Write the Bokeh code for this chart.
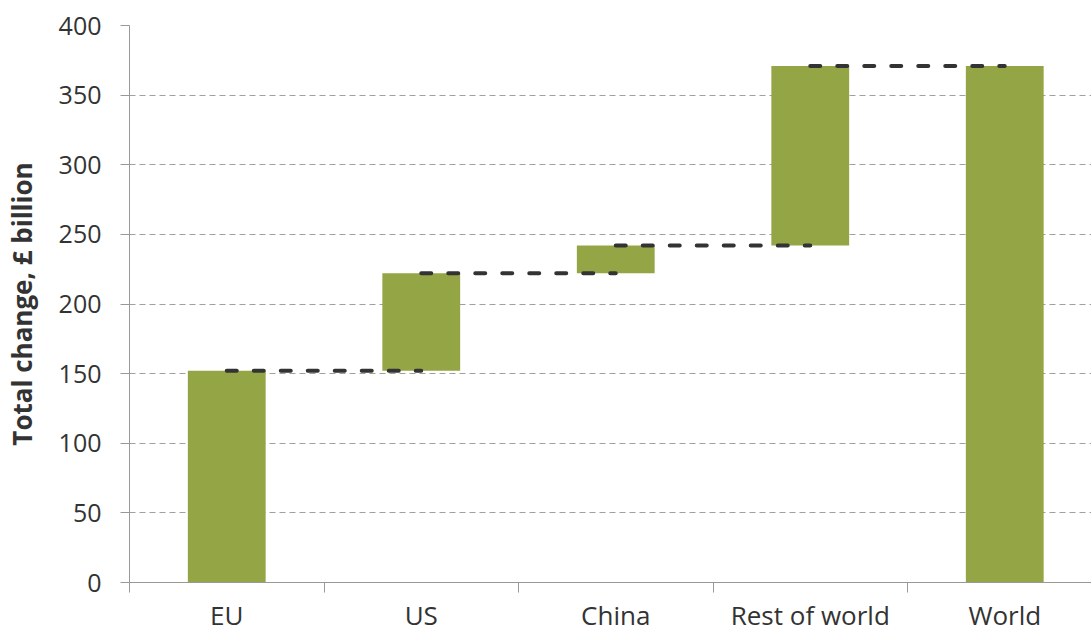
from bokeh.plotting import figure
from bokeh.models import FixedTicker, Range1d, ColumnDataSource
from bokeh.embed import file_html
from bokeh.resources import INLINE
import numpy as np

categories = ["EU", "US", "China", "Rest of world", "World"]
changes = [152, 70, 20, 129]
y_ticks = [0, 50, 100, 150, 200, 250, 300, 350, 400]

cum = np.cumsum(changes)
total = float(cum[-1])
tops = list(cum) + [total]
bottoms = [0] + list(cum[:-1]) + [0]
xs = [i + 0.5 for i in range(len(categories))]

p = figure(width=1091, height=635, output_backend="svg", toolbar_location=None,
           x_range=Range1d(0, 4.946), y_range=Range1d(0, 400),
           min_border_left=128, min_border_right=0, min_border_top=25, min_border_bottom=52)
p.outline_line_color = None
p.background_fill_color = "white"

src = ColumnDataSource(dict(x=xs, top=tops, bottom=bottoms))
p.vbar(x="x", top="top", bottom="bottom", width=0.4, source=src,
       fill_color="#94A545", line_color=None)

# connectors
cx0 = xs[:-1]
cx1 = xs[1:]
cy = list(cum)
p.segment(x0=cx0, y0=cy, x1=cx1, y1=cy, line_color="#333333", line_width=4,
          line_dash="10 17", line_cap="round")

# x axis
p.xaxis.ticker = FixedTicker(ticks=xs, minor_ticks=[0, 1, 2, 3, 4])
p.xaxis.major_label_overrides = {x: c for x, c in zip(xs, categories)}
p.xaxis.major_tick_line_color = None
p.xaxis.major_tick_out = 10
p.xaxis.minor_tick_out = 10
p.xaxis.minor_tick_in = 0
p.xaxis.minor_tick_line_color = "#999999"
p.xaxis.axis_line_color = "#999999"
p.xaxis.major_label_standoff = 4
p.xaxis.major_label_text_font = "Open Sans"
p.xaxis.major_label_text_font_size = "26px"
p.xaxis.major_label_text_color = "#333333"

# y axis
p.yaxis.ticker = FixedTicker(ticks=y_ticks)
p.yaxis.major_tick_out = 9
p.yaxis.major_tick_in = 0
p.yaxis.minor_tick_line_color = None
p.yaxis.major_tick_line_color = "#999999"
p.yaxis.axis_line_color = "#999999"
p.yaxis.major_label_standoff = 19
p.yaxis.major_label_text_font = "Open Sans"
p.yaxis.major_label_text_font_size = "25px"
p.yaxis.major_label_text_color = "#333333"
p.yaxis.axis_label = "Total change, £ billion"
p.yaxis.axis_label_text_font = "Open Sans"
p.yaxis.axis_label_text_font_style = "bold"
p.yaxis.axis_label_text_font_size = "26px"
p.yaxis.axis_label_text_color = "#333333"
p.yaxis.axis_label_standoff = 16

p.xgrid.grid_line_color = None
p.ygrid.grid_line_color = "#a0a0a0"
p.ygrid.grid_line_dash = "6 4"
p.ygrid.grid_line_width = 1

open("out.html", "w").write(file_html(p, INLINE))
